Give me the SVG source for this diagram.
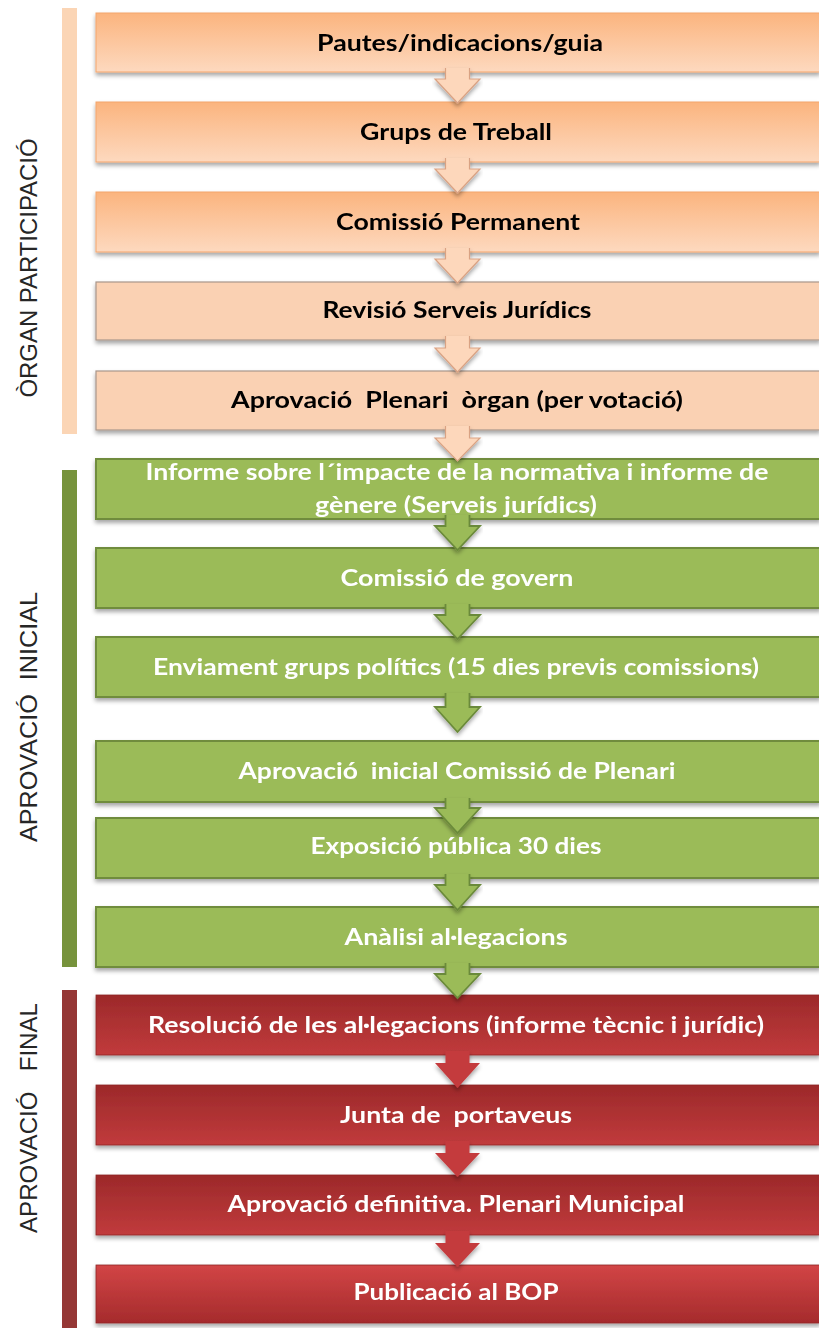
<svg xmlns="http://www.w3.org/2000/svg" width="819" height="1328" viewBox="0 0 819 1328">
<defs>
<style>
.t{font-family:Lato,"Liberation Sans",sans-serif;font-weight:700;font-size:23px;text-anchor:middle;white-space:pre}
.dk{fill:#000}
.wh{fill:#fff}
.side{font-family:"Liberation Sans",Arial,sans-serif;font-size:23px;fill:#262626;text-anchor:middle;white-space:pre}
.bo{fill:url(#gO);stroke:#F4A56C;stroke-width:1}
.bp{fill:#FAD1B3;stroke:#A8968A;stroke-width:1.2}
.bg{fill:#9BBB59;stroke:#6F8C3C;stroke-width:2}
.br{fill:url(#gR);stroke:#8E2626;stroke-width:0.8}
.br2{fill:url(#gR2);stroke:#8E2626;stroke-width:0.8}
.ao{fill:#FDD7BB;stroke:#D9A283;stroke-width:1.2}
.ag{fill:#9BBB59;stroke:#6B8A3A;stroke-width:1.8}
.ar{fill:#C43B3D;stroke:none}
</style>
<linearGradient id="gO" x1="0" y1="0" x2="0" y2="1">
<stop offset="0" stop-color="#FBB47E"/>
<stop offset="1" stop-color="#FDD9BF"/>
</linearGradient>
<linearGradient id="gR" x1="0" y1="0" x2="0" y2="1">
<stop offset="0" stop-color="#9C292A"/>
<stop offset="1" stop-color="#C13B3C"/>
</linearGradient>
<linearGradient id="gR2" x1="0" y1="0" x2="0" y2="1">
<stop offset="0" stop-color="#D24546"/>
<stop offset="1" stop-color="#A52B2C"/>
</linearGradient>
<filter id="sh" x="-5%" y="-20%" width="110%" height="160%">
<feDropShadow dx="0" dy="3" stdDeviation="2" flood-color="#000" flood-opacity="0.35"/>
</filter>
</defs>
<rect width="819" height="1328" fill="#fff"/>

<g id="phase-labels">
<rect x="62" y="8" width="15" height="426" fill="#FBD5B5"/>
<rect x="62" y="470" width="15" height="497" fill="#77933C"/>
<rect x="62" y="990" width="15" height="338" fill="#953735"/>
<text class="side" transform="translate(37,268) rotate(-90)" textLength="259" lengthAdjust="spacingAndGlyphs">ÒRGAN PARTICIPACIÓ</text>
<text class="side" transform="translate(37,717) rotate(-90)" textLength="250" lengthAdjust="spacingAndGlyphs">APROVACIÓ  INICIAL</text>
<text class="side" transform="translate(37,1118) rotate(-90)" textLength="230" lengthAdjust="spacingAndGlyphs">APROVACIÓ   FINAL</text>
</g>

<g id="n1" filter="url(#sh)"><rect class="bo" x="96" y="13" width="724" height="59"/><text class="t dk" x="460" y="51" textLength="286" lengthAdjust="spacingAndGlyphs">Pautes/indicacions/guia</text></g>
<g id="n2" filter="url(#sh)"><rect class="bo" x="96" y="102" width="724" height="60"/><text class="t dk" x="456" y="140" textLength="192" lengthAdjust="spacingAndGlyphs">Grups de Treball</text></g>
<g id="n3" filter="url(#sh)"><rect class="bo" x="96" y="192" width="724" height="60"/><text class="t dk" x="458" y="230" textLength="244" lengthAdjust="spacingAndGlyphs">Comissió Permanent</text></g>
<g id="n4" filter="url(#sh)"><rect class="bp" x="96" y="282" width="724" height="58"/><text class="t dk" x="457" y="318" textLength="269" lengthAdjust="spacingAndGlyphs">Revisió Serveis Jurídics</text></g>
<g id="n5" filter="url(#sh)"><rect class="bp" x="96" y="371" width="724" height="59"/><text class="t dk" x="457" y="408" textLength="452" lengthAdjust="spacingAndGlyphs">Aprovació  Plenari  òrgan (per votació)</text></g>

<g id="n6" filter="url(#sh)"><rect class="bg" x="96" y="459" width="724" height="60"/><text class="t wh" x="457" y="480" textLength="623" lengthAdjust="spacingAndGlyphs">Informe sobre l´impacte de la normativa i informe de</text><text class="t wh" x="456" y="513" textLength="282" lengthAdjust="spacingAndGlyphs">gènere (Serveis jurídics)</text></g>
<g id="n7" filter="url(#sh)"><rect class="bg" x="96" y="548" width="724" height="60"/><text class="t wh" x="457" y="586" textLength="233" lengthAdjust="spacingAndGlyphs">Comissió de govern</text></g>
<g id="n8" filter="url(#sh)"><rect class="bg" x="96" y="637" width="724" height="60"/><text class="t wh" x="456" y="675" textLength="606" lengthAdjust="spacingAndGlyphs">Enviament grups polítics (15 dies previs comissions)</text></g>
<g id="n9" filter="url(#sh)"><rect class="bg" x="96" y="741" width="724" height="61"/><text class="t wh" x="457" y="779" textLength="437" lengthAdjust="spacingAndGlyphs">Aprovació  inicial Comissió de Plenari</text></g>
<g id="n10" filter="url(#sh)"><rect class="bg" x="96" y="818" width="724" height="60"/><text class="t wh" x="456" y="854" textLength="291" lengthAdjust="spacingAndGlyphs">Exposició pública 30 dies</text></g>
<g id="n11" filter="url(#sh)"><rect class="bg" x="96" y="907" width="724" height="60"/><text class="t wh" x="456" y="945" textLength="223" lengthAdjust="spacingAndGlyphs">Anàlisi al·legacions</text></g>

<g id="n12" filter="url(#sh)"><rect class="br" x="96" y="995" width="724" height="60"/><text class="t wh" x="456" y="1033" textLength="616" lengthAdjust="spacingAndGlyphs">Resolució de les al·legacions (informe tècnic i jurídic)</text></g>
<g id="n13" filter="url(#sh)"><rect class="br" x="96" y="1085" width="724" height="60"/><text class="t wh" x="456" y="1123" textLength="232" lengthAdjust="spacingAndGlyphs">Junta de  portaveus</text></g>
<g id="n14" filter="url(#sh)"><rect class="br" x="96" y="1175" width="724" height="60"/><text class="t wh" x="456" y="1212" textLength="457" lengthAdjust="spacingAndGlyphs">Aprovació definitiva. Plenari Municipal</text></g>
<g id="n15" filter="url(#sh)"><rect class="br2" x="96" y="1265" width="724" height="58"/><text class="t wh" x="456" y="1300" textLength="205" lengthAdjust="spacingAndGlyphs">Publicació al BOP</text></g>

<g id="connectors" filter="url(#sh)">
<path class="ao" d="M445.5,68 V79 H435 L457.5,103 L480,79 H469.5 V68"/>
<path class="ao" d="M445.5,158 V169 H435 L457.5,193 L480,169 H469.5 V158"/>
<path class="ao" d="M445.5,248 V259 H435 L457.5,283 L480,259 H469.5 V248"/>
<path class="ao" d="M445.5,336 V348 H435 L457.5,372 L480,348 H469.5 V336"/>
<path class="ao" d="M445.5,426 V438 H435 L457.5,461 L480,438 H469.5 V426"/>
<path class="ag" d="M445.5,515 V526 H435 L457.5,550 L480,526 H469.5 V515"/>
<path class="ag" d="M445.5,604 V615 H435 L457.5,639 L480,615 H469.5 V604"/>
<path class="ag" d="M445.5,693 V707 H435 L457.5,732 L480,707 H469.5 V693"/>
<path class="ag" d="M445.5,798 V808 H435 L457.5,833 L480,808 H469.5 V798"/>
<path class="ag" d="M445.5,874 V885 H435 L457.5,910 L480,885 H469.5 V874"/>
<path class="ag" d="M445.5,963 V974 H435 L457.5,998 L480,974 H469.5 V963"/>
<path class="ar" d="M445.5,1051 V1063 H435 L457.5,1088 L480,1063 H469.5 V1051 Z"/>
<path class="ar" d="M445.5,1141 V1153 H435 L457.5,1177 L480,1153 H469.5 V1141 Z"/>
<path class="ar" d="M445.5,1231 V1243 H435 L457.5,1267 L480,1243 H469.5 V1231 Z"/>
</g>
</svg>
